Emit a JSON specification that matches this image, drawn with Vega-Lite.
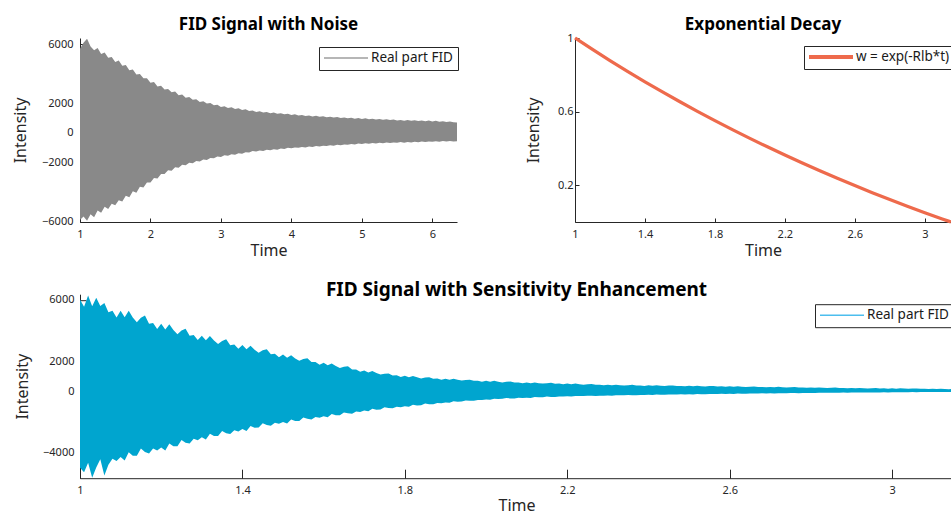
{
"$schema": "https://vega.github.io/schema/vega-lite/v6.json",
"padding": {"left": 12, "top": 15, "right": 0, "bottom": 0},
"background": "#ffffff",
"config": {
  "font": "Noto Sans",
  "view": {"stroke": null},
  "axis": {"grid": false, "domainColor": "#262626", "tickColor": "#262626", "labelColor": "#262626", "titleColor": "#262626", "labelFontSize": 11, "titleFontSize": 16, "titleFontWeight": "normal", "labelFont": "Noto Sans", "titleFont": "Noto Sans", "labelFlush": false, "labelOverlap": false, "domainWidth": 1, "tickWidth": 1},
  "title": {"font": "Noto Sans", "fontWeight": "bold", "color": "#000000", "anchor": "middle", "baseline": "alphabetic"},
  "legend": {"orient": "none", "symbolType": "stroke", "symbolSize": 1936, "clipHeight": 12, "padding": 5, "labelFontSize": 13.5, "labelFont": "Noto Sans", "labelColor": "#1a1a1a", "strokeColor": "#262626", "fillColor": "#ffffff", "labelOffset": 2, "symbolOffset": -1}
},
"datasets": {
"fidA": [
{"t":1.00,"hi":5700,"lo":-5900},{"t":1.05,"hi":6100,"lo":-5650},{"t":1.10,"hi":6380,"lo":-5950},{"t":1.15,"hi":5850,"lo":-5500},{"t":1.20,"hi":5600,"lo":-5700},
{"t":1.25,"hi":5750,"lo":-5250},{"t":1.30,"hi":5350,"lo":-5400},{"t":1.35,"hi":5450,"lo":-5000},{"t":1.40,"hi":5100,"lo":-5150},{"t":1.45,"hi":5150,"lo":-4800},
{"t":1.50,"hi":4800,"lo":-4900},{"t":1.55,"hi":4900,"lo":-4550},{"t":1.60,"hi":4550,"lo":-4650},{"t":1.65,"hi":4600,"lo":-4250},{"t":1.70,"hi":4250,"lo":-4350},
{"t":1.75,"hi":4300,"lo":-3950},{"t":1.80,"hi":3950,"lo":-4050},{"t":1.85,"hi":4000,"lo":-3650},{"t":1.90,"hi":3700,"lo":-3700},{"t":1.95,"hi":3700,"lo":-3350},
{"t":2.00,"hi":3400,"lo":-3350},{"t":2.05,"hi":3450,"lo":-3050},{"t":2.10,"hi":3150,"lo":-3080},{"t":2.15,"hi":3200,"lo":-2780},{"t":2.20,"hi":2950,"lo":-2780},
{"t":2.25,"hi":2980,"lo":-2520},{"t":2.30,"hi":2750,"lo":-2560},{"t":2.35,"hi":2800,"lo":-2330},{"t":2.40,"hi":2560,"lo":-2360},{"t":2.45,"hi":2600,"lo":-2150},
{"t":2.50,"hi":2390,"lo":-2180},{"t":2.55,"hi":2430,"lo":-2010},{"t":2.60,"hi":2250,"lo":-2060},{"t":2.65,"hi":2290,"lo":-1900},{"t":2.70,"hi":2100,"lo":-1930},
{"t":2.75,"hi":2150,"lo":-1790},{"t":2.80,"hi":1990,"lo":-1830},{"t":2.85,"hi":2030,"lo":-1690},{"t":2.90,"hi":1870,"lo":-1720},{"t":2.95,"hi":1910,"lo":-1590},
{"t":3.00,"hi":1760,"lo":-1620},{"t":3.05,"hi":1810,"lo":-1510},{"t":3.10,"hi":1690,"lo":-1550},{"t":3.15,"hi":1740,"lo":-1440},{"t":3.20,"hi":1620,"lo":-1470},
{"t":3.25,"hi":1670,"lo":-1370},{"t":3.30,"hi":1550,"lo":-1400},{"t":3.35,"hi":1600,"lo":-1300},{"t":3.40,"hi":1480,"lo":-1330},{"t":3.45,"hi":1520,"lo":-1230},
{"t":3.50,"hi":1420,"lo":-1260},{"t":3.55,"hi":1470,"lo":-1180},{"t":3.60,"hi":1380,"lo":-1220},{"t":3.65,"hi":1420,"lo":-1140},{"t":3.70,"hi":1340,"lo":-1170},
{"t":3.75,"hi":1390,"lo":-1100},{"t":3.80,"hi":1300,"lo":-1130},{"t":3.85,"hi":1340,"lo":-1060},{"t":3.90,"hi":1260,"lo":-1090},{"t":3.95,"hi":1300,"lo":-1010},
{"t":4.00,"hi":1220,"lo":-1040},{"t":4.05,"hi":1260,"lo":-980},{"t":4.10,"hi":1190,"lo":-1010},{"t":4.15,"hi":1220,"lo":-950},{"t":4.20,"hi":1150,"lo":-980},
{"t":4.25,"hi":1190,"lo":-920},{"t":4.30,"hi":1120,"lo":-950},{"t":4.35,"hi":1160,"lo":-890},{"t":4.40,"hi":1090,"lo":-920},{"t":4.45,"hi":1130,"lo":-860},
{"t":4.50,"hi":1060,"lo":-890},{"t":4.55,"hi":1100,"lo":-830},{"t":4.60,"hi":1040,"lo":-860},{"t":4.65,"hi":1080,"lo":-800},{"t":4.70,"hi":1010,"lo":-830},
{"t":4.75,"hi":1050,"lo":-780},{"t":4.80,"hi":990,"lo":-800},{"t":4.85,"hi":1030,"lo":-750},{"t":4.90,"hi":970,"lo":-780},{"t":4.95,"hi":1010,"lo":-720},
{"t":5.00,"hi":950,"lo":-750},{"t":5.05,"hi":990,"lo":-700},{"t":5.10,"hi":930,"lo":-730},{"t":5.15,"hi":970,"lo":-680},{"t":5.20,"hi":910,"lo":-710},
{"t":5.25,"hi":950,"lo":-670},{"t":5.30,"hi":890,"lo":-690},{"t":5.35,"hi":930,"lo":-650},{"t":5.40,"hi":870,"lo":-680},{"t":5.45,"hi":910,"lo":-640},
{"t":5.50,"hi":850,"lo":-670},{"t":5.55,"hi":880,"lo":-620},{"t":5.60,"hi":830,"lo":-660},{"t":5.65,"hi":870,"lo":-610},{"t":5.70,"hi":820,"lo":-645},
{"t":5.75,"hi":860,"lo":-600},{"t":5.80,"hi":805,"lo":-630},{"t":5.85,"hi":850,"lo":-585},{"t":5.90,"hi":795,"lo":-620},{"t":5.95,"hi":840,"lo":-575},
{"t":6.00,"hi":780,"lo":-600},{"t":6.05,"hi":820,"lo":-560},{"t":6.10,"hi":760,"lo":-590},{"t":6.15,"hi":800,"lo":-550},{"t":6.20,"hi":740,"lo":-585},
{"t":6.25,"hi":780,"lo":-545},{"t":6.30,"hi":720,"lo":-580},{"t":6.35,"hi":700,"lo":-560}
],
"decay": [
{"t":1.0,"w":1},{"t":1.1,"w":0.9378},{"t":1.2,"w":0.8775},{"t":1.3,"w":0.8189},{"t":1.4,"w":0.7621},{"t":1.5,"w":0.707},
{"t":1.6,"w":0.6535},{"t":1.7,"w":0.6015},{"t":1.8,"w":0.5511},{"t":1.9,"w":0.5022},{"t":2.0,"w":0.4547},{"t":2.1,"w":0.4087},
{"t":2.2,"w":0.364},{"t":2.3,"w":0.3206},{"t":2.4,"w":0.2785},{"t":2.5,"w":0.2377},{"t":2.6,"w":0.198},{"t":2.7,"w":0.1595},
{"t":2.8,"w":0.1222},{"t":2.9,"w":0.086},{"t":3.0,"w":0.0508},{"t":3.1,"w":0.0167},{"t":3.15,"w":0}
],
"fidC": [
{"t":1.00,"hi":6030,"lo":-5000},{"t":1.01,"hi":5560,"lo":-5290},{"t":1.02,"hi":6300,"lo":-4670},{"t":1.03,"hi":5590,"lo":-5650},{"t":1.04,"hi":6150,"lo":-4980},
{"t":1.05,"hi":5610,"lo":-4440},{"t":1.06,"hi":5810,"lo":-5500},{"t":1.07,"hi":5200,"lo":-4800},{"t":1.08,"hi":5290,"lo":-4400},{"t":1.09,"hi":4860,"lo":-4550},
{"t":1.10,"hi":5300,"lo":-4290},{"t":1.11,"hi":4870,"lo":-4520},{"t":1.12,"hi":5290,"lo":-3980},{"t":1.13,"hi":4860,"lo":-4210},{"t":1.14,"hi":4540,"lo":-4210},
{"t":1.15,"hi":4840,"lo":-3740},{"t":1.16,"hi":4990,"lo":-3960},{"t":1.17,"hi":4440,"lo":-4060},{"t":1.18,"hi":4490,"lo":-3740},{"t":1.19,"hi":4100,"lo":-3870},
{"t":1.20,"hi":4450,"lo":-3670},{"t":1.21,"hi":4070,"lo":-3860},{"t":1.22,"hi":4410,"lo":-3400},{"t":1.23,"hi":4040,"lo":-3580},{"t":1.24,"hi":3760,"lo":-3590},
{"t":1.25,"hi":4000,"lo":-3180},{"t":1.26,"hi":4110,"lo":-3350},{"t":1.27,"hi":3660,"lo":-3400},{"t":1.28,"hi":3700,"lo":-3100},{"t":1.29,"hi":3380,"lo":-3190},
{"t":1.30,"hi":3660,"lo":-2990},{"t":1.31,"hi":3360,"lo":-3150},{"t":1.32,"hi":3640,"lo":-2770},{"t":1.33,"hi":3340,"lo":-2920},{"t":1.34,"hi":3120,"lo":-2920},
{"t":1.35,"hi":3320,"lo":-2590},{"t":1.36,"hi":3420,"lo":-2730},{"t":1.37,"hi":3040,"lo":-2780},{"t":1.38,"hi":3080,"lo":-2540},{"t":1.39,"hi":2810,"lo":-2620},
{"t":1.40,"hi":3050,"lo":-2460},{"t":1.41,"hi":2780,"lo":-2580},{"t":1.42,"hi":3000,"lo":-2260},{"t":1.43,"hi":2740,"lo":-2370},{"t":1.44,"hi":2550,"lo":-2360},
{"t":1.45,"hi":2700,"lo":-2080},{"t":1.46,"hi":2770,"lo":-2200},{"t":1.47,"hi":2450,"lo":-2240},{"t":1.48,"hi":2470,"lo":-2050},{"t":1.49,"hi":2240,"lo":-2110},
{"t":1.50,"hi":2420,"lo":-1990},{"t":1.51,"hi":2210,"lo":-2090},{"t":1.52,"hi":2380,"lo":-1830},{"t":1.53,"hi":2170,"lo":-1930},{"t":1.54,"hi":2020,"lo":-1930},
{"t":1.55,"hi":2130,"lo":-1700},{"t":1.56,"hi":2180,"lo":-1790},{"t":1.57,"hi":1930,"lo":-1830},{"t":1.58,"hi":1940,"lo":-1670},{"t":1.59,"hi":1760,"lo":-1720},
{"t":1.60,"hi":1890,"lo":-1620},{"t":1.61,"hi":1720,"lo":-1690},{"t":1.62,"hi":1840,"lo":-1480},{"t":1.63,"hi":1680,"lo":-1560},{"t":1.64,"hi":1550,"lo":-1550},
{"t":1.65,"hi":1630,"lo":-1370},{"t":1.66,"hi":1650,"lo":-1430},{"t":1.67,"hi":1450,"lo":-1450},{"t":1.68,"hi":1440,"lo":-1310},{"t":1.69,"hi":1300,"lo":-1340},
{"t":1.70,"hi":1380,"lo":-1240},{"t":1.71,"hi":1250,"lo":-1300},{"t":1.72,"hi":1340,"lo":-1130},{"t":1.73,"hi":1210,"lo":-1190},{"t":1.74,"hi":1110,"lo":-1180},
{"t":1.75,"hi":1160,"lo":-1030},{"t":1.76,"hi":1190,"lo":-1080},{"t":1.77,"hi":1050,"lo":-1100},{"t":1.78,"hi":1060,"lo":-1000},{"t":1.79,"hi":960,"lo":-1030},
{"t":1.80,"hi":1030,"lo":-960},{"t":1.81,"hi":940,"lo":-1000},{"t":1.82,"hi":1020,"lo":-870},{"t":1.83,"hi":930,"lo":-910},{"t":1.84,"hi":860,"lo":-900},
{"t":1.85,"hi":920,"lo":-790},{"t":1.86,"hi":940,"lo":-830},{"t":1.87,"hi":840,"lo":-830},{"t":1.88,"hi":850,"lo":-750},{"t":1.89,"hi":780,"lo":-770},
{"t":1.90,"hi":840,"lo":-720},{"t":1.91,"hi":770,"lo":-740},{"t":1.92,"hi":840,"lo":-640},{"t":1.93,"hi":770,"lo":-670},{"t":1.94,"hi":720,"lo":-660},
{"t":1.95,"hi":760,"lo":-580},{"t":1.96,"hi":780,"lo":-600},{"t":1.97,"hi":700,"lo":-610},{"t":1.98,"hi":700,"lo":-550},{"t":1.99,"hi":640,"lo":-560},
{"t":2.00,"hi":700,"lo":-520},{"t":2.01,"hi":640,"lo":-540},{"t":2.02,"hi":700,"lo":-470},{"t":2.03,"hi":640,"lo":-490},{"t":2.04,"hi":600,"lo":-480},
{"t":2.05,"hi":640,"lo":-420},{"t":2.06,"hi":660,"lo":-450},{"t":2.07,"hi":590,"lo":-450},{"t":2.08,"hi":600,"lo":-410},{"t":2.09,"hi":550,"lo":-420},
{"t":2.10,"hi":600,"lo":-400},{"t":2.11,"hi":550,"lo":-420},{"t":2.12,"hi":600,"lo":-360},{"t":2.13,"hi":550,"lo":-380},{"t":2.14,"hi":520,"lo":-380},
{"t":2.15,"hi":550,"lo":-330},{"t":2.16,"hi":570,"lo":-350},{"t":2.17,"hi":510,"lo":-360},{"t":2.18,"hi":520,"lo":-330},{"t":2.19,"hi":480,"lo":-330},
{"t":2.20,"hi":520,"lo":-310},{"t":2.21,"hi":480,"lo":-330},{"t":2.22,"hi":520,"lo":-290},{"t":2.23,"hi":480,"lo":-300},{"t":2.24,"hi":450,"lo":-300},
{"t":2.25,"hi":480,"lo":-270},{"t":2.26,"hi":500,"lo":-280},{"t":2.27,"hi":440,"lo":-290},{"t":2.28,"hi":450,"lo":-270},{"t":2.29,"hi":410,"lo":-280},
{"t":2.30,"hi":450,"lo":-260},{"t":2.31,"hi":420,"lo":-270},{"t":2.32,"hi":450,"lo":-240},{"t":2.33,"hi":420,"lo":-250},{"t":2.34,"hi":390,"lo":-250},
{"t":2.35,"hi":420,"lo":-220},{"t":2.36,"hi":440,"lo":-240},{"t":2.37,"hi":390,"lo":-240},{"t":2.38,"hi":400,"lo":-220},{"t":2.39,"hi":370,"lo":-220},
{"t":2.40,"hi":410,"lo":-210},{"t":2.41,"hi":375,"lo":-220},{"t":2.42,"hi":410,"lo":-200},{"t":2.43,"hi":380,"lo":-210},{"t":2.44,"hi":360,"lo":-210},
{"t":2.45,"hi":390,"lo":-190},{"t":2.46,"hi":400,"lo":-200},{"t":2.47,"hi":360,"lo":-200},{"t":2.48,"hi":370,"lo":-185},{"t":2.49,"hi":340,"lo":-190},
{"t":2.50,"hi":375,"lo":-180},{"t":2.51,"hi":345,"lo":-190},{"t":2.52,"hi":380,"lo":-165},{"t":2.53,"hi":350,"lo":-175},{"t":2.54,"hi":330,"lo":-175},
{"t":2.55,"hi":355,"lo":-155},{"t":2.56,"hi":370,"lo":-165},{"t":2.57,"hi":330,"lo":-165},{"t":2.58,"hi":340,"lo":-150},{"t":2.59,"hi":315,"lo":-155},
{"t":2.60,"hi":345,"lo":-145},{"t":2.61,"hi":315,"lo":-155},{"t":2.62,"hi":345,"lo":-135},{"t":2.63,"hi":320,"lo":-140},{"t":2.64,"hi":300,"lo":-140},
{"t":2.65,"hi":320,"lo":-125},{"t":2.66,"hi":335,"lo":-130},{"t":2.67,"hi":300,"lo":-135},{"t":2.68,"hi":305,"lo":-120},{"t":2.69,"hi":280,"lo":-125},
{"t":2.70,"hi":305,"lo":-120},{"t":2.71,"hi":285,"lo":-125},{"t":2.72,"hi":310,"lo":-105},{"t":2.73,"hi":285,"lo":-110},{"t":2.74,"hi":265,"lo":-110},
{"t":2.75,"hi":285,"lo":-100},{"t":2.76,"hi":295,"lo":-100},{"t":2.77,"hi":265,"lo":-105},{"t":2.78,"hi":270,"lo":-95},{"t":2.79,"hi":250,"lo":-95},
{"t":2.80,"hi":270,"lo":-90},{"t":2.81,"hi":250,"lo":-90},{"t":2.82,"hi":270,"lo":-80},{"t":2.83,"hi":250,"lo":-85},{"t":2.84,"hi":235,"lo":-85},
{"t":2.85,"hi":250,"lo":-75},{"t":2.86,"hi":260,"lo":-80},{"t":2.87,"hi":235,"lo":-80},{"t":2.88,"hi":240,"lo":-70},{"t":2.89,"hi":220,"lo":-75},
{"t":2.90,"hi":240,"lo":-70},{"t":2.91,"hi":220,"lo":-70},{"t":2.92,"hi":240,"lo":-60},{"t":2.93,"hi":220,"lo":-65},{"t":2.94,"hi":205,"lo":-65},
{"t":2.95,"hi":220,"lo":-55},{"t":2.96,"hi":230,"lo":-60},{"t":2.97,"hi":205,"lo":-60},{"t":2.98,"hi":210,"lo":-50},{"t":2.99,"hi":190,"lo":-55},
{"t":3.00,"hi":210,"lo":-50},{"t":3.01,"hi":190,"lo":-50},{"t":3.02,"hi":210,"lo":-45},{"t":3.03,"hi":195,"lo":-45},{"t":3.04,"hi":180,"lo":-45},
{"t":3.05,"hi":195,"lo":-35},{"t":3.06,"hi":200,"lo":-40},{"t":3.07,"hi":180,"lo":-35},{"t":3.08,"hi":180,"lo":-35},{"t":3.09,"hi":165,"lo":-30},
{"t":3.10,"hi":180,"lo":-30},{"t":3.11,"hi":165,"lo":-30},{"t":3.12,"hi":180,"lo":-25},{"t":3.13,"hi":165,"lo":-25},{"t":3.14,"hi":155,"lo":-25},
{"t":3.15,"hi":165,"lo":-20}
]
},
"spacing": 22.2,
"resolve": {"scale": {"x": "independent", "y": "independent", "color": "independent"}, "legend": {"color": "independent"}, "axis": {"x": "independent", "y": "independent"}},
"vconcat": [
{
  "bounds": "flush",
  "spacing": 118,
  "resolve": {"scale": {"x": "independent", "y": "independent", "color": "independent"}, "legend": {"color": "independent"}, "axis": {"x": "independent", "y": "independent"}},
  "hconcat": [
  {
    "width": 377, "height": 184,
    "title": {"text": "FID Signal with Noise", "fontSize": 17, "offset": 4.1},
    "data": {"name": "fidA"},
    "mark": {"type": "area", "interpolate": "linear", "clip": true},
    "encoding": {
      "x": {"field": "t", "type": "quantitative", "scale": {"domain": [1, 6.35], "nice": false, "zero": false}, "axis": {"title": "Time", "values": [1,2,3,4,5,6], "format": "~g", "tickSize": -4, "labelPadding": 10, "titlePadding": 3}},
      "y": {"field": "hi", "type": "quantitative", "scale": {"domain": [-6030, 6430], "nice": false, "zero": false}, "axis": {"title": "Intensity", "values": [-6000,-2000,0,2000,6000], "format": "d", "tickSize": -4, "labelPadding": 11, "titlePadding": 13}},
      "y2": {"field": "lo"},
      "color": {"datum": "Real part FID", "type": "nominal", "scale": {"range": ["#898989"]}, "legend": {"title": null, "legendX": 239, "legendY": 9, "symbolStrokeWidth": 1.2, "encode": {"symbols": {"update": {"stroke": {"value": "#6e6e6e"}, "strokeWidth": {"value": 1.2}}}}}}
    }
  },
  {
    "width": 376, "height": 184,
    "title": {"text": "Exponential Decay", "fontSize": 17, "offset": -2.6},
    "data": {"name": "decay"},
    "mark": {"type": "line", "strokeWidth": 3.2, "interpolate": "monotone"},
    "encoding": {
      "x": {"field": "t", "type": "quantitative", "scale": {"domain": [1, 3.15], "nice": false, "zero": false}, "axis": {"title": "Time", "values": [1,1.4,1.8,2.2,2.6,3], "format": "~g", "tickSize": -4, "labelPadding": 10, "titlePadding": 3}},
      "y": {"field": "w", "type": "quantitative", "scale": {"domain": [0, 1], "nice": false, "zero": false}, "axis": {"title": "Intensity", "values": [0.2,0.6,1], "format": "~g", "tickSize": -4, "labelPadding": 6, "titlePadding": 15.5}},
      "color": {"datum": "w = exp(-Rlb*t)", "type": "nominal", "scale": {"range": ["#ee6a4c"]}, "legend": {"title": null, "legendX": 229, "legendY": 8, "symbolStrokeWidth": 4, "labelOffset": 1, "symbolOffset": -2}}
    }
  }
  ]
},
{
  "width": 873, "height": 184,
  "title": {"text": "FID Signal with Sensitivity Enhancement", "fontSize": 19, "offset": -6},
  "data": {"name": "fidC"},
  "mark": {"type": "area", "interpolate": "linear", "clip": true},
  "encoding": {
    "x": {"field": "t", "type": "quantitative", "scale": {"domain": [1, 3.15], "nice": false, "zero": false}, "axis": {"title": "Time", "values": [1,1.4,1.8,2.2,2.6,3], "format": "~g", "tickSize": -9, "labelPadding": 15.2, "titlePadding": 2.5}},
    "y": {"field": "hi", "type": "quantitative", "scale": {"domain": [-5680, 6380], "nice": false, "zero": false}, "axis": {"title": "Intensity", "values": [-4000,0,2000,6000], "format": "d", "tickSize": -6, "labelPadding": 12, "titlePadding": 12.5}},
    "y2": {"field": "lo"},
    "color": {"datum": "Real part FID", "type": "nominal", "scale": {"range": ["#00a5cf"]}, "legend": {"title": null, "legendX": 735, "legendY": 10, "symbolStrokeWidth": 1.5, "encode": {"symbols": {"update": {"stroke": {"value": "#4dbeee"}, "strokeWidth": {"value": 1.5}}}}}}
  }
}
]
}
